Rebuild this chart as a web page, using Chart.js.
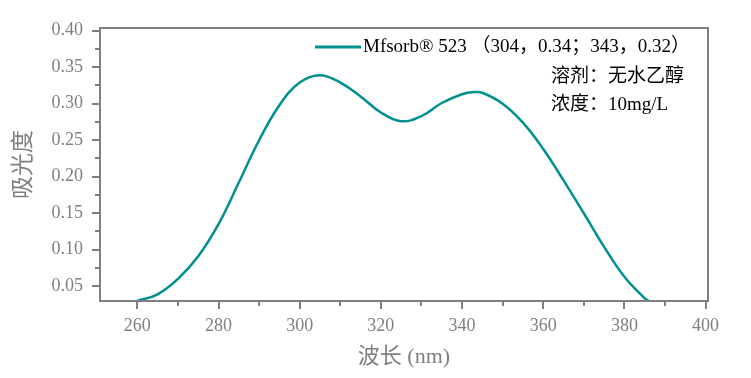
<!DOCTYPE html>
<html lang="zh">
<head>
<meta charset="UTF-8">
<script src="https://cdn.jsdelivr.net/npm/chart.js@4/dist/chart.umd.min.js"></script>
<title>Mfsorb 523</title>
<style>
*{margin:0;padding:0;box-sizing:border-box;}
body{background:#fff;}
#wrap{width:751px;height:378px;position:relative;}
</style>
</head>
<body>
<div id="wrap"><canvas id="chart"></canvas></div>
<script>
// wavelength (nm) and absorbance
const wavelength = [260, 265, 270, 275, 280, 285, 290, 295, 300, 305, 310, 315, 320, 325, 330, 335, 340, 343, 345, 350, 355, 360, 365, 370, 375, 380, 385, 386];
const absorbance = [0.030, 0.039, 0.060, 0.091, 0.135, 0.192, 0.250, 0.298, 0.329, 0.339, 0.329, 0.310, 0.288, 0.276, 0.283, 0.301, 0.313, 0.316, 0.315, 0.300, 0.274, 0.238, 0.195, 0.150, 0.104, 0.063, 0.0335, 0.030];
const xTicks = [260, 280, 300, 320, 340, 360, 380, 400];
const xMinor = [270, 290, 310, 330, 350, 370, 390];
const yTicks = [0.05, 0.10, 0.15, 0.20, 0.25, 0.30, 0.35, 0.40];
const yMinor = [0.075, 0.125, 0.175, 0.225, 0.275, 0.325, 0.375];

const seriesLabel = 'Mfsorb® 523 （304，0.34；343，0.32）';
const notes = ['溶剂：无水乙醇', '浓度：10mg/L'];

const axisGray = '#7f7f7f';
const lineColor = '#009090';
const serif = '"Liberation Serif", "Noto Sans CJK SC", serif';

const frame = {
  id: 'frame',
  afterDraw(chart) {
    const ctx = chart.ctx;
    const a = chart.chartArea;
    const xs = chart.scales.x, ys = chart.scales.y;
    ctx.save();
    ctx.strokeStyle = axisGray;
    ctx.lineWidth = 2;
    ctx.strokeRect(a.left, a.top, a.right - a.left, a.bottom - a.top);
    ctx.beginPath();
    xTicks.forEach(v => { const p = Math.round(xs.getPixelForValue(v)); ctx.moveTo(p, a.bottom); ctx.lineTo(p, a.bottom + 8); });
    xMinor.forEach(v => { const p = Math.round(xs.getPixelForValue(v)); ctx.moveTo(p, a.bottom); ctx.lineTo(p, a.bottom + 5); });
    yTicks.forEach(v => { const p = Math.round(ys.getPixelForValue(v)); ctx.moveTo(a.left, p); ctx.lineTo(a.left - 8, p); });
    yMinor.forEach(v => { const p = Math.round(ys.getPixelForValue(v)); ctx.moveTo(a.left, p); ctx.lineTo(a.left - 5, p); });
    ctx.stroke();

    // legend + notes
    ctx.strokeStyle = lineColor;
    ctx.lineWidth = 3;
    ctx.beginPath();
    ctx.moveTo(315, 47); ctx.lineTo(361, 47);
    ctx.stroke();
    ctx.fillStyle = '#000';
    ctx.textBaseline = 'middle';
    ctx.font = '19px ' + serif;
    ctx.fillText(seriesLabel, 363, 47);
    ctx.fillText(notes[0], 551, 77);
    ctx.fillText(notes[1], 551, 105);
    ctx.restore();
  }
};

new Chart(document.getElementById('chart'), {
  type: 'line',
  data: {
    datasets: [{
      label: seriesLabel,
      data: wavelength.map((w, i) => ({x: w, y: absorbance[i]})),
      borderColor: lineColor,
      borderWidth: 2.5,
      pointRadius: 0,
      fill: false,
      tension: 0.4
    }]
  },
  options: {
    responsive: true,
    maintainAspectRatio: false,
    animation: false,
    layout: {padding: {left: 0, right: 43, top: 28, bottom: 0}},
    plugins: {legend: {display: false}, tooltip: {enabled: false}},
    scales: {
      x: {
        type: 'linear',
        min: 250.8,
        max: 400.6,
        afterBuildTicks: s => { s.ticks = xTicks.map(v => ({value: v})); },
        afterFit: s => { s.height = 77; },
        grid: {display: false, drawTicks: false},
        border: {display: false},
        ticks: {color: axisGray, padding: 14, maxRotation: 0, font: {family: serif, size: 18}},
        title: {display: true, text: '波长 (nm)', color: axisGray, padding: {top: 0, bottom: 8}, font: {family: serif, size: 22}}
      },
      y: {
        min: 0.0298,
        max: 0.4037,
        afterBuildTicks: s => { s.ticks = yTicks.map(v => ({value: v})); },
        afterFit: s => { s.width = 100; },
        grid: {display: false, drawTicks: false},
        border: {display: false},
        ticks: {color: axisGray, padding: 17, font: {family: serif, size: 18}, callback: v => v.toFixed(2)},
        title: {display: true, text: '吸光度', color: axisGray, padding: {top: 10, bottom: 0}, font: {family: serif, size: 23}}
      }
    }
  },
  plugins: [frame]
});
</script>
</body>
</html>
